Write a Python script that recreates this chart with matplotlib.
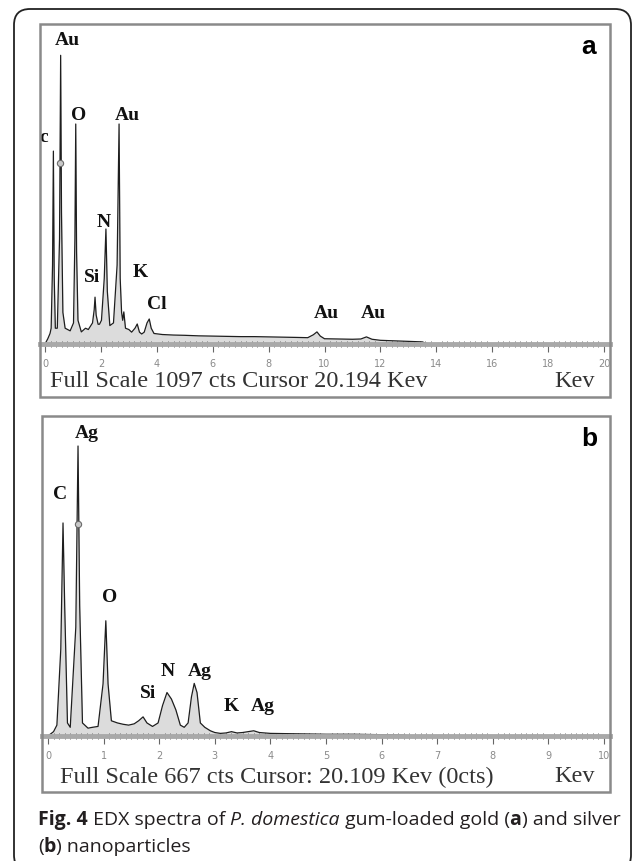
import numpy as np
import matplotlib
matplotlib.use('Agg')
import matplotlib.pyplot as plt
from matplotlib.patches import Rectangle, FancyBboxPatch

# ========== Data ==========
# panel a: gold, 0-20 keV, full scale 1097 cts
energy_a = [0.00, 0.10, 0.18, 0.22, 0.27, 0.30, 0.33, 0.37, 0.44, 0.52, 0.56, 0.59,
            0.64, 0.72, 0.90, 1.02, 1.07, 1.10, 1.13, 1.18, 1.30, 1.45, 1.55, 1.70,
            1.76, 1.79, 1.83, 1.90, 1.95, 2.02, 2.12, 2.18, 2.23, 2.32, 2.45, 2.58,
            2.65, 2.69, 2.74, 2.78, 2.82, 2.88, 3.00, 3.10, 3.22, 3.30, 3.38, 3.46,
            3.55, 3.65, 3.73, 3.80, 3.90, 4.2, 4.6, 5.0, 5.5, 6.0, 6.5, 7.0, 7.5,
            8.0, 8.5, 9.0, 9.4, 9.6, 9.73, 9.85, 10.0, 10.5, 11.0, 11.3, 11.5, 11.7,
            12.0, 12.5, 13.0, 13.5, 13.7, 20.0]
counts_a = [0, 20, 40, 60, 300, 733, 250, 60, 60, 400, 1097, 500,
            120, 60, 50, 80, 400, 836, 350, 90, 46, 60, 55, 80,
            130, 178, 110, 75, 75, 90, 250, 437, 200, 70, 80, 300,
            836, 250, 120, 90, 122, 60, 55, 45, 60, 76, 45, 38,
            45, 80, 95, 60, 40, 36, 34, 33, 31, 30, 29, 28, 28,
            27, 26, 25, 24, 35, 46, 30, 20, 19, 18, 19, 27, 18,
            14, 12, 10, 8, 0, 0]
marker_a = [0.54, 688]
labels_a = ["Au", "O", "Au", "c", "N", "Si", "K", "Cl", "Au", "Au"]
label_kev_a = [0.79, 1.20, 2.93, -0.04, 2.09, 1.70, 3.40, 4.00, 10.05, 11.74]
label_cts_a = [1157, 874, 874, 787, 467, 258, 277, 155, 118, 118]
major_a = np.arange(0, 21, 2)
minor_a = np.arange(0, 20.01, 0.2)
footer_a = "Full Scale 1097 cts Cursor 20.194 Kev"

# panel b: silver, 0-10 keV, full scale 667 cts
energy_b = [0.00, 0.10, 0.16, 0.23, 0.27, 0.30, 0.35, 0.40, 0.50, 0.54, 0.57, 0.62,
            0.72, 0.80, 0.90, 0.99, 1.04, 1.08, 1.14, 1.25, 1.35, 1.45, 1.55, 1.63,
            1.71, 1.78, 1.88, 1.98, 2.06, 2.14, 2.22, 2.30, 2.38, 2.45, 2.52, 2.58,
            2.63, 2.68, 2.74, 2.82, 2.92, 3.0, 3.1, 3.2, 3.3, 3.4, 3.5, 3.6, 3.7,
            3.8, 4.0, 4.5, 5.0, 5.5, 6.0, 6.4, 6.5, 10.0]
counts_b = [0, 10, 25, 200, 490, 300, 30, 20, 250, 667, 300, 30,
            18, 20, 22, 120, 265, 120, 35, 30, 27, 25, 28, 35,
            44, 30, 22, 30, 70, 100, 85, 60, 25, 20, 30, 90,
            121, 100, 30, 20, 12, 8, 6, 7, 10, 7, 8, 10, 12,
            8, 6, 5, 4, 4, 3, 2, 0, 0]
marker_b = [0.54, 488]
labels_b = ["Ag", "C", "O", "N", "Ag", "Si", "K", "Ag"]
label_kev_b = [0.69, 0.22, 1.10, 2.15, 2.73, 1.80, 3.29, 3.87]
label_cts_b = [699, 557, 322, 150, 150, 99, 71, 71]
major_b = np.arange(0, 11, 1)
minor_b = np.arange(0, 10.01, 0.1)
footer_b = "Full Scale 667 cts Cursor: 20.109 Kev (0cts)"

# ========== Figure ==========
W, H = 633, 862
fig = plt.figure(figsize=(W / 100, H / 100), dpi=100)

# outer rounded frame (in inches so the corners stay round)
frame = FancyBboxPatch((0.14, -0.1), 6.17, 8.62,
                       boxstyle="round,pad=0,rounding_size=0.16",
                       transform=fig.dpi_scale_trans, fill=False,
                       ec='#222222', lw=1.3)
fig.add_artist(frame)


def draw_panel(box, base_y, x0_px, kev_px, cts_px, xmax, energy, counts, marker,
               major, minor, labels, lab_x, lab_y, letter, footer, footer_x):
    left, top, right, bottom = box
    fig.add_artist(Rectangle((left / W, 1 - bottom / H), (right - left) / W,
                             (bottom - top) / H, transform=fig.transFigure,
                             fill=False, ec='#8a8a8a', lw=1.8))
    ax = fig.add_axes([left / W, 1 - base_y / H, (right - left) / W, (base_y - top) / H])
    ax.patch.set_alpha(0)
    ax.set_xlim((left - x0_px) / kev_px, xmax + (right - x0_px - xmax * kev_px) / kev_px)
    ax.set_ylim(0, (base_y - top) * cts_px)

    ax.fill_between(energy, counts, color='#dcdcdc', lw=0)
    ax.plot(energy, counts, color='#1e1e1e', lw=0.9)
    ax.plot(marker[0], marker[1], 'o', ms=4.5, mfc='#c8c8c8', mec='#6a6a6a', mew=0.8)

    for s, x, y in zip(labels, lab_x, lab_y):
        ax.text(x, y, s, ha='center', va='center', fontsize=14, fontweight='bold',
                family='Liberation Serif', color='#111111')

    for sp in ['top', 'left', 'right']:
        ax.spines[sp].set_visible(False)
    ax.spines['bottom'].set_color('#a9a9a9')
    ax.spines['bottom'].set_linewidth(3.5)
    ax.set_yticks([])
    ax.set_xticks(major)
    ax.set_xticks(minor, minor=True)
    ax.set_xticklabels([str(int(v)) for v in major])
    ax.tick_params(which='major', direction='out', length=6, width=0.8, color='#666666',
                   labelsize=7, labelcolor='#8a8a8a', pad=4)
    ax.tick_params(which='minor', direction='inout', length=4, width=0.6, color='#555555')

    fig.text(589 / W, 1 - (top + 22) / H, letter, ha='center', va='center',
             fontsize=19, fontweight='bold', family='Liberation Sans')
    fy = 1 - (bottom - 16) / H
    fig.text(footer_x / W, fy, footer, ha='left', va='center', fontsize=17.5,
             family='Liberation Serif', color='#333333')
    fig.text(595 / W, fy, "Kev", ha='right', va='center', fontsize=17.5,
             family='Liberation Serif', color='#333333')
    return ax


draw_panel((40, 25, 610, 398), 345, 45, 27.95, 3.8, 20, energy_a, counts_a, marker_a,
           major_a, minor_a, labels_a, label_kev_a, label_cts_a, 'a', footer_a, 50)
draw_panel((42, 417, 610, 793), 737, 48, 55.6, 2.3, 10, energy_b, counts_b, marker_b,
           major_b, minor_b, labels_b, label_kev_b, label_cts_b, 'b', footer_b, 60)

# ========== Caption ==========
renderer = fig.canvas.get_renderer()


def caption_line(runs, x_px, y_px):
    x = x_px / W
    for s, weight, style in runs:
        t = fig.text(x, 1 - y_px / H, s, ha='left', va='center', fontsize=14,
                     family='Open Sans', fontweight=weight, fontstyle=style,
                     color='#231f20')
        bb = t.get_window_extent(renderer)
        x = bb.x1 / W


caption_line([("Fig. 4", 'bold', 'normal'), (" EDX spectra of ", 'normal', 'normal'),
              ("P. domestica", 'normal', 'italic'), (" gum-loaded gold (", 'normal', 'normal'),
              ("a", 'bold', 'normal'), (") and silver", 'normal', 'normal')], 38, 820)
caption_line([("(", 'normal', 'normal'), ("b", 'bold', 'normal'),
              (") nanoparticles", 'normal', 'normal')], 38, 847)

fig.savefig('out.png', dpi=100)
